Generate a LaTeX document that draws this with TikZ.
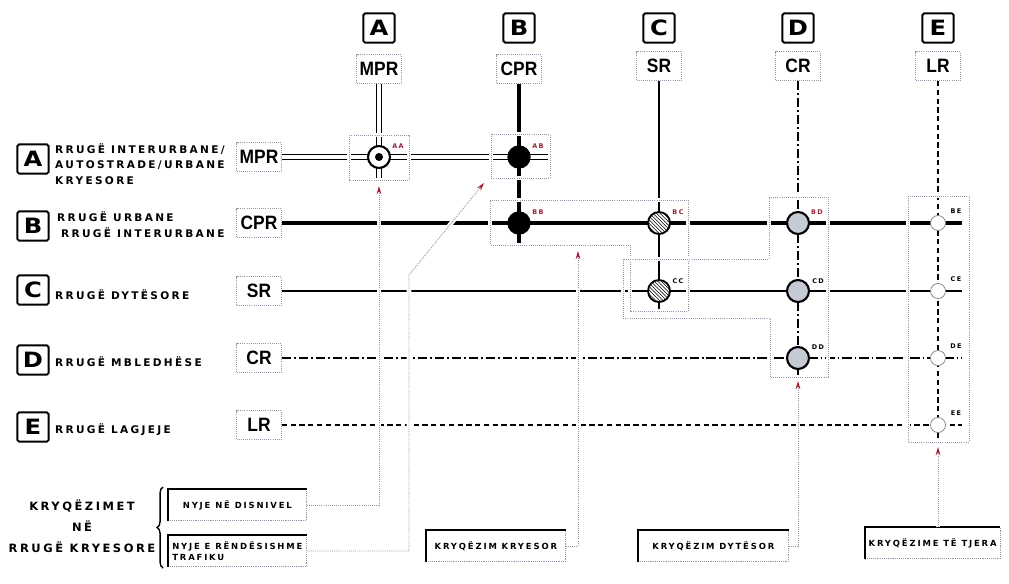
\documentclass[tikz,border=0pt]{standalone}
\usepackage{fontspec}
\setmainfont{DejaVu Sans}
\newfontfamily\labfont{DejaVu Sans}[LetterSpace=22]
\newfontfamily\letfont{DejaVu Sans}[FakeStretch=1.15]
\newfontfamily\cndfont{Liberation Sans}[FakeStretch=0.9]
\usepackage{xcolor}
\usepackage{tikz}
\usetikzlibrary{positioning,patterns,arrows.meta,decorations.pathreplacing}
\definecolor{boxgray}{RGB}{150,150,168}
\definecolor{tipred}{RGB}{165,25,45}
\definecolor{tagred}{RGB}{150,35,55}
\definecolor{jgray}{RGB}{198,202,212}

\begin{document}
\begin{tikzpicture}[x=0.3mm, y=-0.3mm, font=\labfont\bfseries]
  \tikzstyle{letbox}=[draw, line width=1.6pt, rounded corners=1.5pt, fill=white,
                      minimum width=9.4mm, minimum height=8.8mm, inner sep=0pt,
                      font=\letfont\bfseries\fontsize{18}{18}\selectfont]
  \tikzstyle{roadbox}=[draw=boxgray, densely dotted, line width=0.8pt, fill=white,
                       minimum width=13.4mm, minimum height=8.7mm, inner sep=0pt,
                       font=\cndfont\bfseries\fontsize{16.5}{16.5}\selectfont]
  \tikzstyle{roadtxt}=[anchor=west, align=left, inner sep=0pt,
                       font=\labfont\bfseries\fontsize{9}{13.5}\selectfont]
  \tikzstyle{legbox}=[draw=boxgray, densely dotted, line width=0.6pt, fill=white,
                      anchor=north west, align=left, inner sep=1mm,
                      minimum height=9.4mm, font=\labfont\bfseries\fontsize{7.2}{10}\selectfont]
  \tikzstyle{tag}=[inner sep=0pt, font=\labfont\bfseries\fontsize{5.5}{6}\selectfont]
  \tikzstyle{roadA}=[line width=1pt, double, double distance=3.2pt]
  \tikzstyle{roadB}=[line width=4pt]
  \tikzstyle{roadC}=[line width=2pt]
  \tikzstyle{roadD}=[line width=1.6pt, dash pattern=on 8pt off 2.5pt on 1.5pt off 2.5pt]
  \tikzstyle{roadE}=[line width=1.3pt, dash pattern=on 4.5pt off 3pt]
  \tikzstyle{jbox}=[draw=boxgray, densely dotted, line width=0.8pt,
                    preaction={draw=white, solid, line width=3.5pt}]
  \tikzstyle{lead}=[draw=boxgray, densely dotted, line width=0.8pt,
                    preaction={draw=white, solid, line width=4pt, -},
                    -{Stealth[length=7pt, width=4pt, color=tipred]}]
  \tikzstyle{jsep}=[circle, draw, line width=1.8pt, fill=white, minimum size=6.6mm, inner sep=0pt]
  \tikzstyle{jmain}=[circle, fill=black, minimum size=7mm, inner sep=0pt]
  \tikzstyle{jhatch}=[circle, draw, line width=1.6pt, preaction={fill=white},
                      pattern=north west lines, minimum size=6.6mm, inner sep=0pt]
  \tikzstyle{jsec}=[circle, draw, line width=1.8pt, fill=jgray, minimum size=6.6mm, inner sep=0pt]
  \tikzstyle{jloc}=[circle, draw=gray, line width=0.6pt, fill=white, minimum size=4.5mm, inner sep=0pt]

  \fill[white] (0,0) rectangle (1009,583);
  \useasboundingbox (0,0) rectangle (1009,583);

  % column heads
  \node[letbox](cA) at (379,28){A};  \node[roadbox](kA) at (379,69){MPR};
  \node[letbox](cB) at (519,28){B};  \node[roadbox](kB) at (519,69){CPR};
  \node[letbox](cC) at (659,28){C};  \node[roadbox](kC) at (659,66){SR};
  \node[letbox](cD) at (798,28){D};  \node[roadbox](kD) at (798,66){CR};
  \node[letbox](cE) at (938,28){E};  \node[roadbox](kE) at (938,66){LR};

  % row heads
  \node[letbox](lA) at (33,159){A};
  \node[roadtxt](tA) at (55,164){RRUGË INTERURBANE/\\AUTOSTRADE/URBANE\\KRYESORE};
  \node[roadbox](rA) at (259,157){MPR};
  \node[letbox](lB) at (33,226){B};
  \node[roadtxt](tB) at (57,225){RRUGË URBANE\\\hspace*{1.2mm}RRUGË INTERURBANE};
  \node[roadbox](rB) at (259,223){CPR};
  \node[letbox](lC) at (33,290){C};
  \node[roadtxt](tC) at (55,295){RRUGË DYTËSORE};
  \node[roadbox](rC) at (259,291){SR};
  \node[letbox](lD) at (33,360){D};
  \node[roadtxt](tD) at (55,362){RRUGË MBLEDHËSE};
  \node[roadbox](rD) at (259,358){CR};
  \node[letbox](lE) at (33,427){E};
  \node[roadtxt](tE) at (55,430){RRUGË LAGJEJE};
  \node[roadbox](rE) at (259,425){LR};

  % roads
  \coordinate (eA) at (550,157); \coordinate (fA) at (379,181);
  \coordinate (eB) at (962,223); \coordinate (fB) at (519,244);
  \coordinate (eC) at (962,291); \coordinate (fC) at (659,309);
  \coordinate (eD) at (962,358); \coordinate (fD) at (798,375);
  \coordinate (eE) at (962,425); \coordinate (fE) at (938,442);
  \draw[roadA](rA.east)--(eA); \draw[roadA](kA.south)--(fA);
  \draw[roadB](rB.east)--(eB); \draw[roadB](kB.south)--(fB);
  \draw[roadC](rC.east)--(eC); \draw[roadC](kC.south)--(fC);
  \draw[roadD](rD.east)--(eD); \draw[roadD](kD.south)--(fD);
  \draw[roadE](rE.east)--(eE); \draw[roadE](kE.south)--(fE);

  % junction areas
  \draw[jbox](349,135) rectangle (409,180);
  \draw[jbox](491,134) rectangle (550,178);
  \draw[jbox](490,200)--(688,200)--(688,311)--(630,311)--(630,245)--(490,245)--cycle;
  \draw[jbox](769,197)--(828,197)--(828,377)--(770,377)--(770,318)--(623,318)--(623,259)--(769,259)--cycle;
  \draw[jbox](908,196) rectangle (969,442);

  % legend
  \node(gL) at (82,526)[align=center, font=\labfont\bfseries\fontsize{9.8}{18}\selectfont]
       {KRYQËZIMET\\NË\\RRUGË KRYESORE};
  \coordinate (brB) at (163,568); \coordinate (brT) at (163,487);
  \draw[line width=1.2pt, decorate, decoration={brace, amplitude=5pt}](brB)--(brT);
  \node[legbox, minimum width=41.4mm](n1) at (168,489){NYJE NË DISNIVEL};
  \node[legbox, minimum width=41.4mm](n2) at (168,535){NYJE E RËNDËSISHME\\TRAFIKU};
  \node[legbox, minimum width=41.7mm](k1) at (426,530){KRYQËZIM KRYESOR};
  \node[legbox, minimum width=45mm](k2) at (638,530){KRYQËZIM DYTËSOR};
  \node[legbox, minimum width=39.3mm](k3) at (865,527){KRYQËZIME TË TJERA};
  \foreach \b in {n1,n2,k1,k2,k3}
    \draw[line width=2pt](\b.south west)--(\b.north west)--(\b.north east);

  % leads
  \coordinate (pAA) at (379,186);
  \coordinate (pAB) at (484,183); \coordinate (qAB) at (409,275);
  \coordinate (pP) at (578,251);
  \coordinate (pS) at (798,381);
  \coordinate (pO) at (938,447);
  \draw[lead](n1.east)-|(pAA);
  \draw[lead](n2.east)-|(qAB)--(pAB);
  \draw[lead](k1.east)-|(pP);
  \draw[lead](k2.east)-|(pS);
  \draw[lead](k3.north -| pO)--(pO);

  % junctions
  \node[jsep](AA) at (379,157){};
  \node[circle, fill, minimum size=2.4mm, inner sep=0pt](AAdot) at (AA.center){};
  \node[jmain](AB) at (519,157){};
  \node[jmain](BB) at (519,223){};
  \node[jhatch](BC) at (659,223){};
  \node[jhatch](CC) at (659,291){};
  \node[jsec](BD) at (798,223){};
  \node[jsec](CD) at (798,291){};
  \node[jsec](DD) at (798,358){};
  \node[jloc](BE) at (938,223){};
  \node[jloc](CE) at (938,291){};
  \node[jloc](DE) at (938,358){};
  \node[jloc](EE) at (938,425){};
  \node[tag, tagred](tAA) at (398,146){AA};
  \node[tag, tagred](tAB) at (538,146){AB};
  \node[tag, tagred](tBB) at (538,212){BB};
  \node[tag, tagred](tBC) at (678,212){BC};
  \node[tag](tCC) at (678,281){CC};
  \node[tag, tagred](tBD) at (817,212){BD};
  \node[tag](tCD) at (818,281){CD};
  \node[tag](tDD) at (818,347){DD};
  \node[tag](tBE) at (956,211){BE};
  \node[tag](tCE) at (956,279){CE};
  \node[tag](tDE) at (956,346){DE};
  \node[tag](tEE) at (956,413){EE};
\end{tikzpicture}
\end{document}
